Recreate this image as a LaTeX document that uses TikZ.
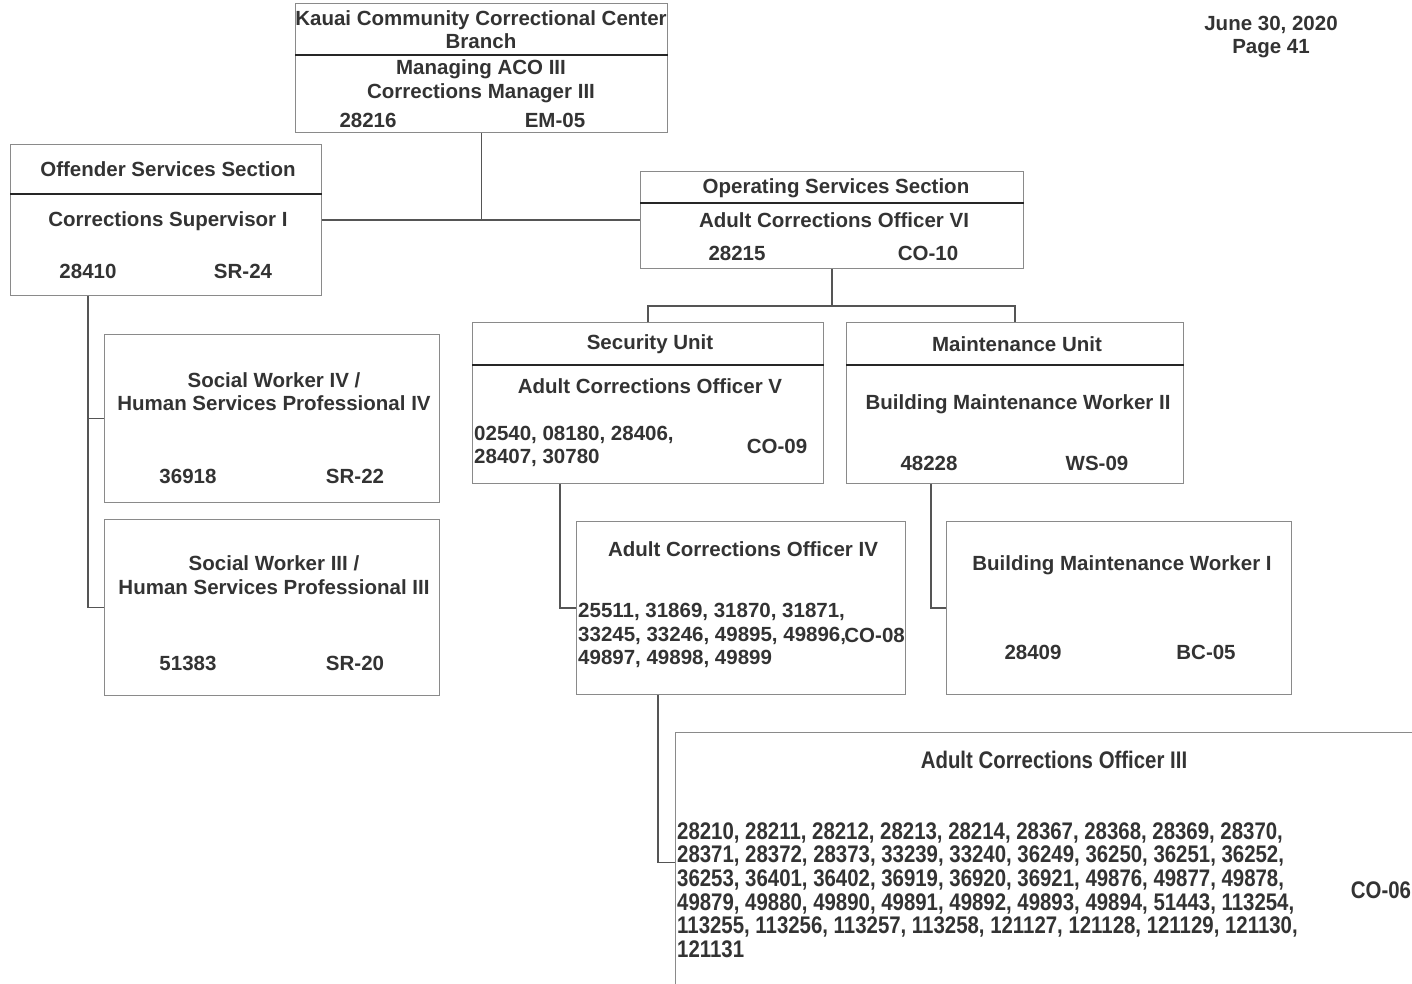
\documentclass[tikz,border=0pt]{standalone}
\usepackage{fontspec}
\setmainfont{Liberation Sans}
\newfontfamily\narrowfont[FakeStretch=0.85]{Liberation Sans}
\usetikzlibrary{positioning}
\definecolor{txtgray}{HTML}{333333}
\definecolor{boxgray}{HTML}{8A8A8A}
\definecolor{linegray}{HTML}{555555}

\begin{document}
\begin{tikzpicture}[x=1pt,y=-1pt,
  box/.style={draw=boxgray,line width=1.2pt,rectangle,anchor=north west,inner sep=0pt},
  divider/.style={draw=black!85,line width=1.1pt},
  conn/.style={draw=linegray,line width=1.3pt},
  lbl/.style={text=txtgray,font=\bfseries\fontsize{20.5}{23.5}\selectfont,align=center,inner sep=0pt},
  numl/.style={lbl,align=left,anchor=west},
  narrow/.style={text=txtgray,font=\narrowfont\bfseries\fontsize{24}{23.6}\selectfont,inner sep=0pt}]
\useasboundingbox (0,0) rectangle (1412,984);
\clip (0,0) rectangle (1412,984);

% boxes
\node[box,minimum width=372pt,minimum height=129pt] (kccc) at (295,3) {};
\node[box,minimum width=311pt,minimum height=151pt] (offsec) at (10,144) {};
\node[box,minimum width=383pt,minimum height=97pt] (opsec) at (640,171) {};
\node[box,minimum width=351pt,minimum height=161pt] (secunit) at (472,322) {};
\node[box,minimum width=337pt,minimum height=161pt] (mntunit) at (846,322) {};
\node[box,minimum width=335pt,minimum height=168pt] (swiv) at (104,334) {};
\node[box,minimum width=335pt,minimum height=176pt] (swiii) at (104,519) {};
\node[box,minimum width=329pt,minimum height=173pt] (acoiv) at (576,521) {};
\node[box,minimum width=345pt,minimum height=173pt] (bmwi) at (946,521) {};
\node[box,minimum width=745pt,minimum height=260pt] (acoiii) at (675,732) {};

% header lines
\draw[divider] ([yshift=-52pt]kccc.north west) -- ([yshift=-52pt]kccc.north east);
\draw[divider] ([yshift=-50pt]offsec.north west) -- ([yshift=-50pt]offsec.north east);
\draw[divider] ([yshift=-32pt]opsec.north west) -- ([yshift=-32pt]opsec.north east);
\draw[divider] ([yshift=-43pt]secunit.north west) -- ([yshift=-43pt]secunit.north east);
\draw[divider] ([yshift=-43pt]mntunit.north west) -- ([yshift=-43pt]mntunit.north east);

% connectors
\draw[conn] (kccc.south) -- (kccc.south |- offsec.east);
\draw[conn] (offsec.east) -- (opsec.west);
\draw[conn] (opsec.south) -- ++(0,38);
\draw[conn] (secunit.north) -- ++(0,-16) -| (mntunit.north);
\draw[conn] ([xshift=78pt]offsec.south west) coordinate (offdrop) |- (swiv.west);
\draw[conn] (offdrop) |- (swiii.west);
\draw[conn] ([xshift=88pt]secunit.south west) |- (acoiv.west);
\draw[conn] ([xshift=85pt]mntunit.south west) |- (bmwi.west);
\draw[conn] ([xshift=82pt]acoiv.south west) |- (acoiii.west);

% texts
\node[lbl] (date) at (1271,37) {June 30, 2020\\Page 41};

\node[lbl] (kcccname) at (481,29.5) {Kauai Community Correctional Center\\Branch};
\node[lbl] (kccctitle) at (481,81) {Managing ACO III\\Corrections Manager III};
\node[lbl] (kcccpos) at (368,120) {28216};
\node[lbl] (kcccsr) at (555,120) {EM-05};

\node[lbl] (offname) at (168,169) {Offender Services Section};
\node[lbl] (offtitle) at (168,221) {Corrections Supervisor I};
\node[lbl] (offpos) at (88,271) {28410};
\node[lbl] (offsr) at (243,271) {SR-24};

\node[lbl] (opname) at (836,188) {Operating Services Section};
\node[lbl] (optitle) at (834,220) {Adult Corrections Officer VI};
\node[lbl] (oppos) at (737,253) {28215};
\node[lbl] (opsr) at (928,253) {CO-10};

\node[lbl] (secname) at (650,344) {Security Unit};
\node[lbl] (sectitle) at (650,386) {Adult Corrections Officer V};
\node[numl] (secpos) at (474,446.5) {02540, 08180, 28406,\\28407, 30780};
\node[lbl] (secsr) at (777,446) {CO-09};

\node[lbl] (mntname) at (1017,344) {Maintenance Unit};
\node[lbl] (mnttitle) at (1018,404) {Building Maintenance Worker II};
\node[lbl] (mntpos) at (929,463) {48228};
\node[lbl] (mntsr) at (1097,463) {WS-09};

\node[lbl] (swivtitle) at (274,391.5) {Social Worker IV /\\Human Services Professional IV};
\node[lbl] (swivpos) at (188,476) {36918};
\node[lbl] (swivsr) at (355,476) {SR-22};

\node[lbl] (swiiititle) at (274,575) {Social Worker III /\\Human Services Professional III};
\node[lbl] (swiiipos) at (188,663) {51383};
\node[lbl] (swiiisr) at (355,663) {SR-20};

\node[lbl] (acoivtitle) at (743,549) {Adult Corrections Officer IV};
\node[numl] (acoivpos) at (578,635.5) {25511, 31869, 31870, 31871,\\33245, 33246, 49895, 49896,\\49897, 49898, 49899};
\node[lbl,anchor=east] (acoivsr) at (905,635) {CO-08};

\node[lbl] (bmwititle) at (1122,565) {Building Maintenance Worker I};
\node[lbl] (bmwipos) at (1033,652) {28409};
\node[lbl] (bmwisr) at (1206,652) {BC-05};

\node[narrow] (acoiiititle) at (1054,760) {Adult Corrections Officer III};
\node[narrow,align=left,anchor=west] (acoiiipos) at (677,890) {28210, 28211, 28212, 28213, 28214, 28367, 28368, 28369, 28370,\\
28371, 28372, 28373, 33239, 33240, 36249, 36250, 36251, 36252,\\
36253, 36401, 36402, 36919, 36920, 36921, 49876, 49877, 49878,\\
49879, 49880, 49890, 49891, 49892, 49893, 49894, 51443, 113254,\\
113255, 113256, 113257, 113258, 121127, 121128, 121129, 121130,\\
121131};
\node[narrow] (acoiiisr) at (1381,890) {CO-06};
\end{tikzpicture}
\end{document}
